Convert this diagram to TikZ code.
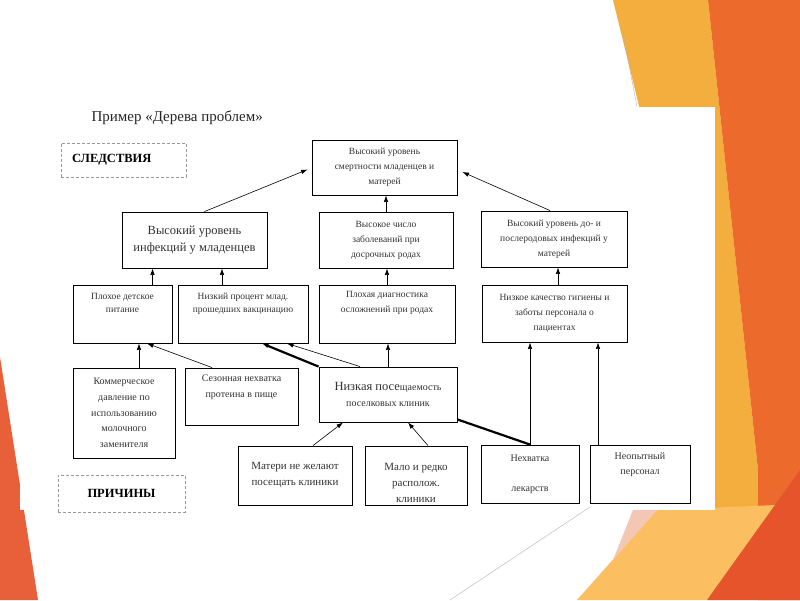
\documentclass[tikz,border=0pt]{standalone}
\usepackage{fontspec}
\setmainfont{Liberation Serif}
\usetikzlibrary{arrows.meta}

\definecolor{yel}{HTML}{F4AE3E}
\definecolor{org}{HTML}{EC6A2C}
\definecolor{lorg}{HTML}{FBBF62}
\definecolor{pnk}{HTML}{F4C6B4}
\definecolor{rd}{HTML}{E6542B}
\definecolor{lrd}{HTML}{E8603A}

\newcommand\txtS{\fontsize{9.5}{15}\selectfont}
\newcommand\txtT{\fontsize{9.5}{13}\selectfont}
\newcommand\txtN{\fontsize{10}{16}\selectfont}
\newcommand\txtM{\fontsize{11}{16}\selectfont}
\newcommand\txtL{\fontsize{12.5}{17}\selectfont}

\begin{document}
\begin{tikzpicture}[x=1pt,y=-1pt,
  box/.style={draw, line width=0.9pt, align=center, inner sep =2pt, text=black!80},
  tag/.style={draw=black!40, densely dashed, line width=0.5pt, font=\bfseries\fontsize{12.5}{14}\selectfont},
  arr/.style={-{Latex[length=6.5pt,width=4.5pt]}, line width=0.6pt},
  fat/.style={line width=2.2pt}]
\useasboundingbox (0,0) rectangle (800,600);
\fill[yel] (613,0) -- (708,0) -- (758,470) -- (780,505) -- (660,515) -- (640,110) -- cycle;
\fill[org] (708,0) -- (800,0) -- (800,600) -- (758,600) -- (758,470) -- cycle;
\fill[lorg] (577,600) -- (657,510) -- (777,505) -- (707,600) -- cycle;
\fill[pnk] (613,560) -- (633,510) -- (657,510) -- cycle;
\fill[rd] (707,600) -- (800,470) -- (800,600) -- cycle;
\fill[lrd] (0,357) -- (38,600) -- (0,600) -- cycle;
\draw[black!30, line width=0.4pt] (623,33) -- (637,107);
\fill[white] (20,107) rectangle (715,510);
\draw[black!30, line width=0.4pt] (590,507) -- (450,600);

\node[anchor=base west, font=\fontsize{15}{18}\selectfont, text=black!85] (ttl) at (88,121) {Пример «Дерева проблем»};
\node[tag, minimum height=34pt, text width=103pt, inner xsep=11pt, align=left] (sled) at (123.5,160) {СЛЕДСТВИЯ};
\node[tag, minimum width=127pt, minimum height=37pt] (prich) at (121.5,493.5) {ПРИЧИНЫ};

\node[box, minimum width=145pt, minimum height=55pt, font=\txtS] (top) at (384.5,167.5) {Высокий уровень\\смертности младенцев и\\матерей};

\node[box, minimum width=145pt, minimum height=56pt, font=\txtL] (inf) at (194.5,240) {Высокий уровень\\инфекций у младенцев};
\node[box, minimum width=134pt, minimum height=56pt, font=\txtS] (dos) at (386,240) {Высокое число\\заболеваний при\\досрочных родах};
\node[box, minimum width=146pt, minimum height=56pt, font=\txtS] (mat) at (554,239) {Высокий уровень до- и\\послеродовых инфекций у\\матерей};

\node[box, minimum width=99pt, minimum height=58pt, font=\txtT] (pit) at (122.5,314) {Плохое детское\\питание\\[10pt]\mbox{}};
\node[box, minimum width=130pt, minimum height=58pt, font=\txtT] (vak) at (243,314) {Низкий процент млад.\\прошедших вакцинацию\\[9pt]\mbox{}};
\node[box, minimum width=136pt, minimum height=58pt, font=\txtS] (diag) at (387,314) {Плохая диагностика\\осложнений при родах\\[10pt]\mbox{}};
\node[box, minimum width=145pt, minimum height=57pt, font=\txtS] (gig) at (554.5,313.5) {Низкое качество гигиены и\\заботы персонала о\\пациентах};

\node[box, minimum width=102pt, minimum height=90pt, font=\fontsize{10}{15.7}\selectfont] (kom) at (124,413) {Коммерческое\\давление по\\использованию\\молочного\\заменителя};
\node[box, minimum width=113pt, minimum height=57pt, font=\txtN] (sez) at (241.5,396.5) {Сезонная нехватка\\протеина в пище\\[4pt]\mbox{}};
\node[box, minimum width=138pt, minimum height=55pt, font=\txtN] (pos) at (388,394.5) {{\fontsize{12.5}{16}\selectfont Низкая посе}щаемость\\поселковых клиник};

\node[box, minimum width=114pt, minimum height=59pt, font=\txtM] (mot) at (295,475.5) {Матери не желают\\посещать клиники};
\node[box, minimum width=102pt, minimum height=59pt, font=\txtM] (malo) at (416,475.5) {\mbox{}\\[6pt]Мало и редко\\располож.\\клиники};
\node[box, minimum width=98pt, minimum height=58pt, font=\txtN] (lek) at (530,474) {Нехватка\\[14pt]лекарств};
\node[box, minimum width=100pt, minimum height=58pt, font=\fontsize{10}{15}\selectfont] (opyt) at (640,474) {Неопытный\\персонал\\[5pt]\mbox{}};

\draw[arr] ([xshift=10pt]inf.north) -- ([xshift=-4pt,yshift=-2pt]top.west);
\draw[arr] ([xshift=-4pt]mat.north) -- ([xshift=5pt,yshift=-4.5pt]top.east);
\draw[arr] (dos.north) -- (dos.north |- top.south);
\draw[arr] ([xshift=30pt]pit.north) -- ([xshift=-42pt]inf.south);
\draw[arr] ([xshift=-21pt]vak.north) -- ([xshift=27.5pt]inf.south);
\draw[arr] (diag.north) -- (diag.north |- dos.south);
\draw[arr] ([xshift=3.5pt]gig.north) -- ([xshift=4pt]mat.south);
\draw[arr] ([xshift=15pt]kom.north) -- ([xshift=16.5pt]pit.south);
\draw[arr] ([xshift=-29.5pt]sez.north) -- ([xshift=24.5pt]pit.south);
\draw[arr, fat] (pos.north west) -- ([xshift=19pt]vak.south);
\draw[arr] ([xshift=-28pt]pos.north) -- ([xshift=44pt]vak.south);
\draw[arr] (pos.north) -- (pos.north |- diag.south);
\draw[fat] ([yshift=3pt]pos.south east) -- (lek.north);
\draw[arr] (lek.north) -- (lek.north |- gig.south);
\draw[arr] ([xshift=-42pt]opyt.north) -- ([xshift=43.5pt]gig.south);
\draw[arr] ([xshift=18pt]mot.north) -- ([xshift=-45pt]pos.south);
\draw[arr] ([xshift=12pt]malo.north) -- ([xshift=20pt]pos.south);
\end{tikzpicture}
\end{document}
